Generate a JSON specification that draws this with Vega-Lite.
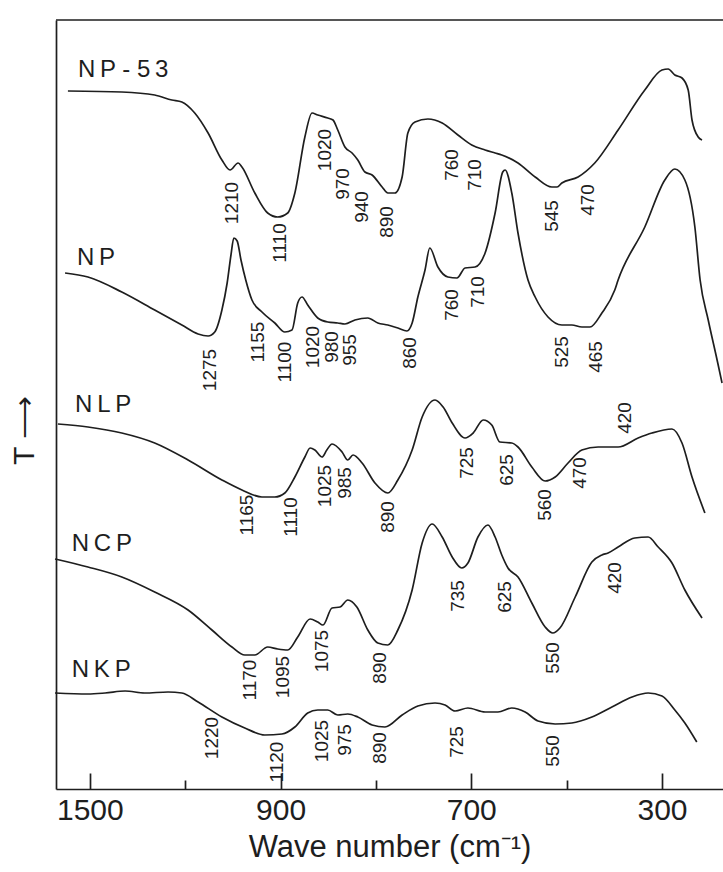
{
  "$schema": "https://vega.github.io/schema/vega-lite/v6.json",
  "autosize": "none",
  "padding": {"left": 56, "top": 20, "right": 0, "bottom": 83},
  "width": 667,
  "height": 769,
  "background": "white",
  "config": {
    "view": {"stroke": null},
    "font": "Liberation Sans"
  },
  "datasets": {
    "spectra": [
      {"s": "NP-53", "wn": 1546, "t": 698}, {"s": "NP-53", "wn": 1433, "t": 697}, {"s": "NP-53", "wn": 1364, "t": 694},
      {"s": "NP-53", "wn": 1328, "t": 689}, {"s": "NP-53", "wn": 1307, "t": 687}, {"s": "NP-53", "wn": 1280, "t": 676},
      {"s": "NP-53", "wn": 1252, "t": 656}, {"s": "NP-53", "wn": 1223, "t": 629}, {"s": "NP-53", "wn": 1206, "t": 619},
      {"s": "NP-53", "wn": 1189, "t": 626}, {"s": "NP-53", "wn": 1181, "t": 622}, {"s": "NP-53", "wn": 1154, "t": 596},
      {"s": "NP-53", "wn": 1127, "t": 576}, {"s": "NP-53", "wn": 1106, "t": 572}, {"s": "NP-53", "wn": 1085, "t": 576},
      {"s": "NP-53", "wn": 1070, "t": 596}, {"s": "NP-53", "wn": 1049, "t": 652}, {"s": "NP-53", "wn": 1034, "t": 676},
      {"s": "NP-53", "wn": 1022, "t": 674}, {"s": "NP-53", "wn": 1001, "t": 671}, {"s": "NP-53", "wn": 990, "t": 669},
      {"s": "NP-53", "wn": 980, "t": 659}, {"s": "NP-53", "wn": 965, "t": 642}, {"s": "NP-53", "wn": 950, "t": 636},
      {"s": "NP-53", "wn": 938, "t": 629}, {"s": "NP-53", "wn": 923, "t": 617}, {"s": "NP-53", "wn": 908, "t": 614},
      {"s": "NP-53", "wn": 887, "t": 602}, {"s": "NP-53", "wn": 875, "t": 596}, {"s": "NP-53", "wn": 860, "t": 596},
      {"s": "NP-53", "wn": 845, "t": 612}, {"s": "NP-53", "wn": 833, "t": 656}, {"s": "NP-53", "wn": 818, "t": 667},
      {"s": "NP-53", "wn": 791, "t": 670}, {"s": "NP-53", "wn": 761, "t": 666}, {"s": "NP-53", "wn": 728, "t": 654},
      {"s": "NP-53", "wn": 699, "t": 644}, {"s": "NP-53", "wn": 671, "t": 639}, {"s": "NP-53", "wn": 650, "t": 636},
      {"s": "NP-53", "wn": 636, "t": 634}, {"s": "NP-53", "wn": 602, "t": 626}, {"s": "NP-53", "wn": 566, "t": 612},
      {"s": "NP-53", "wn": 531, "t": 602}, {"s": "NP-53", "wn": 520, "t": 602}, {"s": "NP-53", "wn": 510, "t": 606},
      {"s": "NP-53", "wn": 476, "t": 612}, {"s": "NP-53", "wn": 441, "t": 626}, {"s": "NP-53", "wn": 392, "t": 659},
      {"s": "NP-53", "wn": 336, "t": 699}, {"s": "NP-53", "wn": 300, "t": 719}, {"s": "NP-53", "wn": 287, "t": 720},
      {"s": "NP-53", "wn": 273, "t": 714}, {"s": "NP-53", "wn": 258, "t": 711}, {"s": "NP-53", "wn": 245, "t": 699},
      {"s": "NP-53", "wn": 237, "t": 669}, {"s": "NP-53", "wn": 224, "t": 652}, {"s": "NP-53", "wn": 216, "t": 649},

      {"s": "NP", "wn": 1552, "t": 516}, {"s": "NP", "wn": 1504, "t": 512}, {"s": "NP", "wn": 1433, "t": 497},
      {"s": "NP", "wn": 1364, "t": 479}, {"s": "NP", "wn": 1307, "t": 464}, {"s": "NP", "wn": 1273, "t": 455},
      {"s": "NP", "wn": 1252, "t": 453}, {"s": "NP", "wn": 1238, "t": 457}, {"s": "NP", "wn": 1223, "t": 479},
      {"s": "NP", "wn": 1212, "t": 506}, {"s": "NP", "wn": 1204, "t": 534}, {"s": "NP", "wn": 1198, "t": 551},
      {"s": "NP", "wn": 1191, "t": 548}, {"s": "NP", "wn": 1183, "t": 529}, {"s": "NP", "wn": 1173, "t": 509},
      {"s": "NP", "wn": 1160, "t": 489}, {"s": "NP", "wn": 1139, "t": 477}, {"s": "NP", "wn": 1112, "t": 466},
      {"s": "NP", "wn": 1091, "t": 457}, {"s": "NP", "wn": 1076, "t": 459}, {"s": "NP", "wn": 1064, "t": 486},
      {"s": "NP", "wn": 1055, "t": 492}, {"s": "NP", "wn": 1043, "t": 484}, {"s": "NP", "wn": 1022, "t": 471},
      {"s": "NP", "wn": 1001, "t": 467}, {"s": "NP", "wn": 980, "t": 466}, {"s": "NP", "wn": 965, "t": 465},
      {"s": "NP", "wn": 944, "t": 469}, {"s": "NP", "wn": 917, "t": 471}, {"s": "NP", "wn": 896, "t": 466},
      {"s": "NP", "wn": 875, "t": 464}, {"s": "NP", "wn": 854, "t": 461}, {"s": "NP", "wn": 835, "t": 458},
      {"s": "NP", "wn": 824, "t": 466}, {"s": "NP", "wn": 812, "t": 492}, {"s": "NP", "wn": 797, "t": 519},
      {"s": "NP", "wn": 787, "t": 541}, {"s": "NP", "wn": 770, "t": 522}, {"s": "NP", "wn": 749, "t": 512},
      {"s": "NP", "wn": 730, "t": 511}, {"s": "NP", "wn": 713, "t": 521}, {"s": "NP", "wn": 692, "t": 522},
      {"s": "NP", "wn": 671, "t": 536}, {"s": "NP", "wn": 650, "t": 576}, {"s": "NP", "wn": 634, "t": 617},
      {"s": "NP", "wn": 629, "t": 619}, {"s": "NP", "wn": 615, "t": 596}, {"s": "NP", "wn": 602, "t": 556},
      {"s": "NP", "wn": 581, "t": 509}, {"s": "NP", "wn": 566, "t": 492}, {"s": "NP", "wn": 539, "t": 472},
      {"s": "NP", "wn": 510, "t": 464}, {"s": "NP", "wn": 489, "t": 464}, {"s": "NP", "wn": 468, "t": 462},
      {"s": "NP", "wn": 451, "t": 462}, {"s": "NP", "wn": 426, "t": 476}, {"s": "NP", "wn": 399, "t": 499},
      {"s": "NP", "wn": 392, "t": 509}, {"s": "NP", "wn": 336, "t": 562}, {"s": "NP", "wn": 294, "t": 609},
      {"s": "NP", "wn": 273, "t": 620}, {"s": "NP", "wn": 252, "t": 609}, {"s": "NP", "wn": 231, "t": 562},
      {"s": "NP", "wn": 220, "t": 509}, {"s": "NP", "wn": 203, "t": 469}, {"s": "NP", "wn": 183, "t": 426},
      {"s": "NP", "wn": 174, "t": 406},

      {"s": "NLP", "wn": 1567, "t": 365}, {"s": "NLP", "wn": 1504, "t": 362}, {"s": "NLP", "wn": 1433, "t": 356},
      {"s": "NLP", "wn": 1364, "t": 346}, {"s": "NLP", "wn": 1294, "t": 329}, {"s": "NLP", "wn": 1223, "t": 309},
      {"s": "NLP", "wn": 1181, "t": 299}, {"s": "NLP", "wn": 1139, "t": 292}, {"s": "NLP", "wn": 1112, "t": 292},
      {"s": "NLP", "wn": 1091, "t": 296}, {"s": "NLP", "wn": 1070, "t": 312}, {"s": "NLP", "wn": 1049, "t": 332},
      {"s": "NLP", "wn": 1038, "t": 341}, {"s": "NLP", "wn": 1028, "t": 339}, {"s": "NLP", "wn": 1013, "t": 332},
      {"s": "NLP", "wn": 1003, "t": 339}, {"s": "NLP", "wn": 992, "t": 345}, {"s": "NLP", "wn": 971, "t": 337},
      {"s": "NLP", "wn": 959, "t": 329}, {"s": "NLP", "wn": 948, "t": 334}, {"s": "NLP", "wn": 929, "t": 326},
      {"s": "NLP", "wn": 902, "t": 306}, {"s": "NLP", "wn": 875, "t": 296}, {"s": "NLP", "wn": 854, "t": 309},
      {"s": "NLP", "wn": 824, "t": 339}, {"s": "NLP", "wn": 803, "t": 372}, {"s": "NLP", "wn": 776, "t": 389},
      {"s": "NLP", "wn": 759, "t": 382}, {"s": "NLP", "wn": 740, "t": 366}, {"s": "NLP", "wn": 713, "t": 351},
      {"s": "NLP", "wn": 696, "t": 356}, {"s": "NLP", "wn": 675, "t": 369}, {"s": "NLP", "wn": 657, "t": 364},
      {"s": "NLP", "wn": 640, "t": 347}, {"s": "NLP", "wn": 615, "t": 346}, {"s": "NLP", "wn": 602, "t": 342},
      {"s": "NLP", "wn": 573, "t": 322}, {"s": "NLP", "wn": 545, "t": 308}, {"s": "NLP", "wn": 524, "t": 312},
      {"s": "NLP", "wn": 497, "t": 326}, {"s": "NLP", "wn": 468, "t": 339}, {"s": "NLP", "wn": 434, "t": 342},
      {"s": "NLP", "wn": 392, "t": 342}, {"s": "NLP", "wn": 350, "t": 351}, {"s": "NLP", "wn": 321, "t": 356},
      {"s": "NLP", "wn": 279, "t": 360}, {"s": "NLP", "wn": 258, "t": 346}, {"s": "NLP", "wn": 237, "t": 312},
      {"s": "NLP", "wn": 210, "t": 276},

      {"s": "NCP", "wn": 1573, "t": 230}, {"s": "NCP", "wn": 1504, "t": 222}, {"s": "NCP", "wn": 1433, "t": 212},
      {"s": "NCP", "wn": 1364, "t": 197}, {"s": "NCP", "wn": 1294, "t": 179}, {"s": "NCP", "wn": 1244, "t": 159},
      {"s": "NCP", "wn": 1202, "t": 142}, {"s": "NCP", "wn": 1175, "t": 134}, {"s": "NCP", "wn": 1154, "t": 134},
      {"s": "NCP", "wn": 1127, "t": 142}, {"s": "NCP", "wn": 1106, "t": 140}, {"s": "NCP", "wn": 1085, "t": 139},
      {"s": "NCP", "wn": 1064, "t": 152}, {"s": "NCP", "wn": 1038, "t": 170}, {"s": "NCP", "wn": 1022, "t": 167},
      {"s": "NCP", "wn": 1011, "t": 164}, {"s": "NCP", "wn": 992, "t": 181}, {"s": "NCP", "wn": 975, "t": 182},
      {"s": "NCP", "wn": 959, "t": 189}, {"s": "NCP", "wn": 940, "t": 182}, {"s": "NCP", "wn": 917, "t": 159},
      {"s": "NCP", "wn": 896, "t": 146}, {"s": "NCP", "wn": 875, "t": 144}, {"s": "NCP", "wn": 854, "t": 159},
      {"s": "NCP", "wn": 824, "t": 199}, {"s": "NCP", "wn": 803, "t": 246}, {"s": "NCP", "wn": 782, "t": 265},
      {"s": "NCP", "wn": 761, "t": 252}, {"s": "NCP", "wn": 740, "t": 232}, {"s": "NCP", "wn": 720, "t": 221},
      {"s": "NCP", "wn": 707, "t": 226}, {"s": "NCP", "wn": 686, "t": 252}, {"s": "NCP", "wn": 665, "t": 264},
      {"s": "NCP", "wn": 650, "t": 252}, {"s": "NCP", "wn": 636, "t": 234}, {"s": "NCP", "wn": 623, "t": 221},
      {"s": "NCP", "wn": 602, "t": 212}, {"s": "NCP", "wn": 573, "t": 186}, {"s": "NCP", "wn": 545, "t": 162},
      {"s": "NCP", "wn": 529, "t": 156}, {"s": "NCP", "wn": 514, "t": 161}, {"s": "NCP", "wn": 482, "t": 192},
      {"s": "NCP", "wn": 447, "t": 227}, {"s": "NCP", "wn": 426, "t": 234}, {"s": "NCP", "wn": 413, "t": 236},
      {"s": "NCP", "wn": 392, "t": 242}, {"s": "NCP", "wn": 357, "t": 251}, {"s": "NCP", "wn": 329, "t": 252},
      {"s": "NCP", "wn": 308, "t": 242}, {"s": "NCP", "wn": 279, "t": 226}, {"s": "NCP", "wn": 252, "t": 199},
      {"s": "NCP", "wn": 216, "t": 171},

      {"s": "NKP", "wn": 1573, "t": 96}, {"s": "NKP", "wn": 1504, "t": 95}, {"s": "NKP", "wn": 1468, "t": 96},
      {"s": "NKP", "wn": 1426, "t": 98}, {"s": "NKP", "wn": 1385, "t": 96}, {"s": "NKP", "wn": 1336, "t": 97},
      {"s": "NKP", "wn": 1307, "t": 96}, {"s": "NKP", "wn": 1273, "t": 87}, {"s": "NKP", "wn": 1223, "t": 72},
      {"s": "NKP", "wn": 1175, "t": 61}, {"s": "NKP", "wn": 1133, "t": 54}, {"s": "NKP", "wn": 1097, "t": 55},
      {"s": "NKP", "wn": 1070, "t": 62}, {"s": "NKP", "wn": 1043, "t": 76}, {"s": "NKP", "wn": 1022, "t": 79},
      {"s": "NKP", "wn": 1001, "t": 79}, {"s": "NKP", "wn": 980, "t": 74}, {"s": "NKP", "wn": 959, "t": 75},
      {"s": "NKP", "wn": 938, "t": 72}, {"s": "NKP", "wn": 908, "t": 64}, {"s": "NKP", "wn": 881, "t": 62},
      {"s": "NKP", "wn": 845, "t": 74}, {"s": "NKP", "wn": 812, "t": 83}, {"s": "NKP", "wn": 776, "t": 86},
      {"s": "NKP", "wn": 755, "t": 84}, {"s": "NKP", "wn": 734, "t": 78}, {"s": "NKP", "wn": 707, "t": 81},
      {"s": "NKP", "wn": 671, "t": 77}, {"s": "NKP", "wn": 644, "t": 77}, {"s": "NKP", "wn": 615, "t": 81},
      {"s": "NKP", "wn": 587, "t": 77}, {"s": "NKP", "wn": 560, "t": 68}, {"s": "NKP", "wn": 524, "t": 65},
      {"s": "NKP", "wn": 489, "t": 66}, {"s": "NKP", "wn": 447, "t": 72}, {"s": "NKP", "wn": 405, "t": 82},
      {"s": "NKP", "wn": 363, "t": 92}, {"s": "NKP", "wn": 329, "t": 96}, {"s": "NKP", "wn": 300, "t": 93},
      {"s": "NKP", "wn": 273, "t": 79}, {"s": "NKP", "wn": 252, "t": 66}, {"s": "NKP", "wn": 227, "t": 47}
    ],
    "peaks": [
      {"label": "1210", "wn": 1202, "t": 586}, {"label": "1110", "wn": 1101, "t": 546},
      {"label": "1020", "wn": 1007, "t": 639}, {"label": "970", "wn": 969, "t": 605},
      {"label": "940", "wn": 929, "t": 582}, {"label": "890", "wn": 877, "t": 567},
      {"label": "760", "wn": 740, "t": 624}, {"label": "710", "wn": 692, "t": 614},
      {"label": "545", "wn": 531, "t": 573}, {"label": "470", "wn": 455, "t": 589},

      {"label": "1275", "wn": 1248, "t": 419}, {"label": "1155", "wn": 1148, "t": 447},
      {"label": "1100", "wn": 1091, "t": 427}, {"label": "1020", "wn": 1032, "t": 442},
      {"label": "980", "wn": 992, "t": 442}, {"label": "955", "wn": 955, "t": 439},
      {"label": "860", "wn": 829, "t": 436}, {"label": "760", "wn": 740, "t": 484},
      {"label": "710", "wn": 686, "t": 497}, {"label": "525", "wn": 510, "t": 437},
      {"label": "465", "wn": 438, "t": 432},

      {"label": "1165", "wn": 1171, "t": 274}, {"label": "1110", "wn": 1078, "t": 272},
      {"label": "1025", "wn": 1007, "t": 303}, {"label": "985", "wn": 965, "t": 306},
      {"label": "890", "wn": 875, "t": 272}, {"label": "725", "wn": 709, "t": 326},
      {"label": "625", "wn": 625, "t": 319}, {"label": "560", "wn": 545, "t": 284},
      {"label": "470", "wn": 472, "t": 316}, {"label": "420", "wn": 378, "t": 371},

      {"label": "1170", "wn": 1164, "t": 109}, {"label": "1095", "wn": 1095, "t": 112},
      {"label": "1075", "wn": 1013, "t": 138}, {"label": "890", "wn": 892, "t": 121},
      {"label": "735", "wn": 728, "t": 193}, {"label": "625", "wn": 629, "t": 192},
      {"label": "550", "wn": 529, "t": 131}, {"label": "420", "wn": 399, "t": 211},

      {"label": "1220", "wn": 1244, "t": 51}, {"label": "1120", "wn": 1108, "t": 27},
      {"label": "1025", "wn": 1013, "t": 48}, {"label": "975", "wn": 965, "t": 49},
      {"label": "890", "wn": 892, "t": 41}, {"label": "725", "wn": 730, "t": 47},
      {"label": "550", "wn": 529, "t": 38}
    ],
    "names": [
      {"label": "N\u2009P - 5\u20093", "wn": 1525, "t": 719},
      {"label": "N\u2009P", "wn": 1527, "t": 531},
      {"label": "N\u2009L\u2009P", "wn": 1531, "t": 384},
      {"label": "N\u2009C\u2009P", "wn": 1538, "t": 245},
      {"label": "N\u2009K\u2009P", "wn": 1538, "t": 119}
    ]
  },
  "layer": [
    {
      "data": {"name": "spectra"},
      "mark": {"type": "line", "interpolate": "monotone", "color": "#1e1e1e", "strokeWidth": 1.7},
      "encoding": {
        "x": {
          "field": "wn",
          "type": "quantitative",
          "scale": {"domain": [172, 1571], "reverse": true, "zero": false, "nice": false},
          "axis": {
            "values": [1500, 1300, 1100, 900, 700, 500, 300],
            "labelExpr": "datum.value == 1500 ? '1500' : datum.value == 1100 ? '900' : datum.value == 700 ? '700' : datum.value == 300 ? '300' : ''",
            "grid": false,
            "domainColor": "#1e1e1e",
            "domainWidth": 1.7,
            "tickColor": "#1e1e1e",
            "tickWidth": 1.7,
            "tickSize": {"condition": {"test": "datum.value == 1500 || datum.value == 1100 || datum.value == 700 || datum.value == 300", "value": -16}, "value": -9},
            "labelPadding": 22,
            "labelFontSize": 30,
            "labelColor": "#1e1e1e",
            "labelFont": "Liberation Sans",
            "title": "Wave number (cm\u207b\u00b9)",
            "titleFontSize": 31,
            "titleFontWeight": "normal",
            "titleColor": "#1e1e1e",
            "titleFont": "Liberation Sans",
            "titlePadding": 7
          }
        },
        "y": {
          "field": "t",
          "type": "quantitative",
          "scale": {"domain": [0, 769], "zero": false, "nice": false},
          "axis": {
            "ticks": false,
            "labels": false,
            "grid": false,
            "domainColor": "#1e1e1e",
            "domainWidth": 1.7,
            "title": "T \u27f6",
            "titleFontSize": 30,
            "titleFontWeight": "normal",
            "titleColor": "#1e1e1e",
            "titleFont": "Liberation Sans",
            "titleAngle": 270,
            "titleAlign": "center",
            "titleBaseline": "middle",
            "titleX": -32,
            "titleY": 410
          }
        },
        "detail": {"field": "s", "type": "nominal"}
      }
    },
    {
      "data": {"name": "peaks"},
      "mark": {"type": "text", "angle": 270, "align": "center", "baseline": "middle", "fontSize": 19, "color": "#1e1e1e", "font": "Liberation Sans"},
      "encoding": {
        "x": {"field": "wn", "type": "quantitative"},
        "y": {"field": "t", "type": "quantitative"},
        "text": {"field": "label", "type": "nominal"}
      }
    },
    {
      "data": {"name": "names"},
      "mark": {"type": "text", "align": "left", "baseline": "middle", "fontSize": 24, "color": "#1e1e1e", "font": "Liberation Sans"},
      "encoding": {
        "x": {"field": "wn", "type": "quantitative"},
        "y": {"field": "t", "type": "quantitative"},
        "text": {"field": "label", "type": "nominal"}
      }
    },
    {
      "data": {"values": [{"t": 769}]},
      "mark": {"type": "rule", "color": "#1e1e1e", "strokeWidth": 1.7},
      "encoding": {
        "y": {"field": "t", "type": "quantitative"}
      }
    }
  ]
}
